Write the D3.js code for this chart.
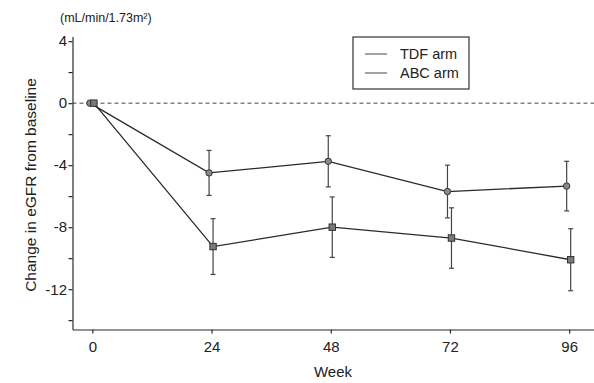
<!DOCTYPE html>
<html>
<head>
<meta charset="utf-8">
<script src="https://cdn.jsdelivr.net/npm/d3@7"></script>
<style>
  body { margin: 0; background: #fff; }
  svg { display: block; font-family: Arial, "Liberation Sans", sans-serif; }
</style>
</head>
<body>
<svg id="chart"></svg>
<script>
// data (week, mean change, error)
var weeks = [0, 24, 48, 72, 96];
var tdfMean = [0, -9.25, -8.0, -8.7, -10.1];
var tdfErr = [0, 1.8, 1.95, 1.95, 2.0];
var abcMean = [0, -4.5, -3.75, -5.7, -5.35];
var abcErr = [0, 1.45, 1.65, 1.7, 1.6];
var xTicks = [0, 24, 48, 72, 96];
var yMajor = [4, 0, -4, -8, -12];
var yMinor = [2, -2, -6, -10, -14];

var W = 594, H = 383;
var svg = d3.select("#chart").attr("width", W).attr("height", H);

var x = d3.scaleLinear().domain([-4, 101]).range([72.5, 594]);
var y = d3.scaleLinear().domain([4.3, -14.6]).range([36.5, 329.5]);

var ink = "#2a2a2a";

// zero reference line
svg.append("line")
    .attr("x1", x(-4)).attr("x2", W)
    .attr("y1", y(0)).attr("y2", y(0))
    .attr("stroke", "#444").attr("stroke-width", 1)
    .attr("stroke-dasharray", "4,3");

// y axis
var yAxis = d3.axisLeft(y).tickValues(yMajor).tickSize(4).tickSizeOuter(0)
    .tickFormat(function (d) { return d; });
var gy = svg.append("g").attr("transform", "translate(" + x(-4) + ",0)").call(yAxis);
gy.selectAll(".tick").filter(function (d) { return false; });
svg.append("g").attr("transform", "translate(" + x(-4) + ",0)")
    .call(d3.axisLeft(y).tickValues(yMinor).tickSize(4).tickSizeOuter(0).tickFormat(""))
    .select(".domain").remove();

// x axis
var gx = svg.append("g").attr("transform", "translate(0," + y(-14.6) + ")")
    .call(d3.axisBottom(x).tickValues(xTicks).tickSize(4).tickSizeOuter(0));

[gy, gx].forEach(function (g) {
  g.selectAll("path, line").attr("stroke", ink).attr("stroke-width", 1.2);
  g.selectAll("text").attr("fill", "#222").style("font-size", "15px");
});
gy.selectAll("text").attr("dx", "0.1em");
gx.selectAll("text").attr("dy", "1.05em");
svg.selectAll(".domain").attr("stroke", ink);

// series
function drawSeries(means, errs, dodge, shape) {
  var pts = weeks.map(function (w, i) { return { w: w, m: means[i], e: errs[i] }; });
  var px = function (d) { return x(d.w) + dodge; };

  svg.append("path").datum(pts)
      .attr("fill", "none").attr("stroke", ink).attr("stroke-width", 1.3)
      .attr("d", d3.line().x(px).y(function (d) { return y(d.m); }));

  var eb = svg.append("g").selectAll("g").data(pts.filter(function (d) { return d.e > 0; }))
      .enter().append("g").attr("stroke", "#444").attr("stroke-width", 1.2);
  eb.append("line").attr("x1", px).attr("x2", px)
      .attr("y1", function (d) { return y(d.m + d.e); })
      .attr("y2", function (d) { return y(d.m - d.e); });
  [1, -1].forEach(function (s) {
    eb.append("line")
        .attr("x1", function (d) { return px(d) - 2.5; })
        .attr("x2", function (d) { return px(d) + 2.5; })
        .attr("y1", function (d) { return y(d.m + s * d.e); })
        .attr("y2", function (d) { return y(d.m + s * d.e); });
  });

  if (shape === "circle") {
    svg.append("g").selectAll("circle").data(pts).enter().append("circle")
        .attr("cx", px).attr("cy", function (d) { return y(d.m); })
        .attr("r", 3.2).attr("fill", "#8a8a8a").attr("stroke", "#333").attr("stroke-width", 1);
  } else {
    svg.append("g").selectAll("rect").data(pts).enter().append("rect")
        .attr("x", function (d) { return px(d) - 3.2; })
        .attr("y", function (d) { return y(d.m) - 3.2; })
        .attr("width", 6.4).attr("height", 6.4)
        .attr("fill", "#7a7a7a").attr("stroke", "#333").attr("stroke-width", 1);
  }
}
drawSeries(abcMean, abcErr, -2.5, "circle");
drawSeries(tdfMean, tdfErr, 1.5, "square");

// labels
svg.append("text").attr("x", 60).attr("y", 22).attr("fill", "#222")
    .style("font-size", "12.5px").text("(mL/min/1.73m²)");
svg.append("text")
    .attr("transform", "translate(36," + ((y(4.3) + y(-14.6)) / 2 + 2) + ")rotate(-90)")
    .attr("text-anchor", "middle").attr("fill", "#222")
    .style("font-size", "15.5px").text("Change in eGFR from baseline");
svg.append("text").attr("x", 333).attr("y", 377).attr("text-anchor", "middle")
    .attr("fill", "#222").style("font-size", "15px").text("Week");

// legend
var legendNames = ["TDF arm", "ABC arm"];
var lg = svg.append("g").attr("transform", "translate(353,37)");
lg.append("rect").attr("width", 116).attr("height", 52)
    .attr("fill", "#fff").attr("stroke", "#333").attr("stroke-width", 1.2);
legendNames.forEach(function (name, i) {
  var ly = 17 + i * 19;
  lg.append("line").attr("x1", 12).attr("x2", 34).attr("y1", ly).attr("y2", ly)
      .attr("stroke", "#666").attr("stroke-width", 1.2);
  lg.append("text").attr("x", 47).attr("y", ly + 5).attr("fill", "#222")
      .style("font-size", "14.5px").text(name);
});
</script>
</body>
</html>
